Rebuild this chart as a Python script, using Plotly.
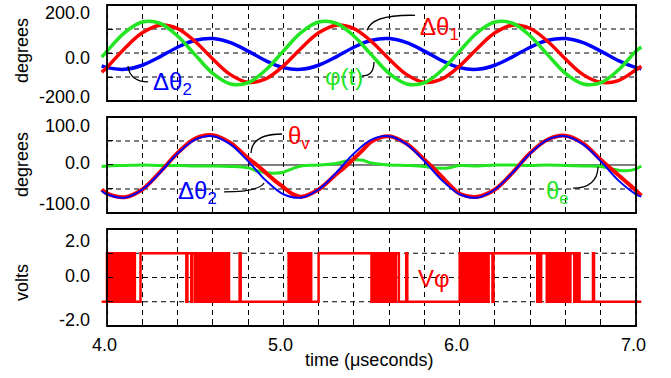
import plotly.graph_objects as go

# ---------------- data ----------------
t_main = [3.97, 4.0, 4.1, 4.2, 4.3, 4.4, 4.5, 4.6, 4.7, 4.8, 4.9,
          5.0, 5.1, 5.2, 5.3, 5.4, 5.5, 5.6, 5.7, 5.8, 5.9,
          6.0, 6.1, 6.2, 6.3, 6.4, 6.5, 6.6, 6.7, 6.8, 6.9, 7.0, 7.03]

d_theta1 = [-80, -60, 19, 84, 116, 102, 48, -25, -90, -122, -108,
            -54, 19, 84, 116, 102, 48, -25, -90, -122, -108,
            -54, 19, 84, 116, 102, 48, -25, -90, -122, -115, -70, -55]

phi_t = [-17, 8, 85, 129, 124, 71, -8, -85, -129, -124, -71,
         8, 85, 129, 124, 71, -8, -85, -129, -124, -71,
         8, 85, 129, 124, 71, -8, -85, -129, -124, -71, 8, 25]

d_theta2 = [-54, -61, -68, -51, -16, 24, 53, 60, 43, 8, -32,
            -61, -68, -51, -16, 24, 53, 60, 43, 8, -32,
            -61, -68, -51, -16, 24, 53, 60, 43, 8, -32, -61, -66]

t_mid = [3.97, 4.0, 4.1, 4.2, 4.3, 4.4, 4.5, 4.6, 4.7, 4.8, 4.85, 4.9, 4.95,
         5.0, 5.05, 5.1, 5.2, 5.3, 5.35, 5.4, 5.45, 5.5, 5.6, 5.7, 5.8, 5.85,
         5.9, 5.95, 6.0, 6.1, 6.2, 6.3, 6.4, 6.5, 6.6, 6.7, 6.8, 6.85, 6.9,
         6.95, 7.0, 7.03]

theta_v = [-51, -59, -67, -51, -15, 25, 55, 62, 46, 14, 0, -16, -32,
           -46, -60, -66, -51, -19, -4, 13, 31, 49, 60, 44, 11, -6,
           -25, -44, -60, -66, -51, -16, 25, 53, 61, 45, 11, -5, -21,
           -37, -53, -64]

theta_e = [-3, -2, -1, 0, -1, -1, -2, -2, -3, -6, -12, -16, -17,
           -15, -8, -2, 0, 3, 8, 11, 10, 4, 0, -1, -3, -6,
           -7, -5, -1, -2, 0, 0, -1, 0, -1, -2, -3, -7, -11,
           -12, -8, -2]

# V_phi: switching instants (each toggles between -1 and +1), starting low
v_start, v_end = 3.97, 7.03
v_low, v_high = -1.0, 1.0
v_switch = [
    4.000, 4.008, 4.018, 4.026, 4.035, 4.046, 4.055, 4.064, 4.074, 4.083,
    4.092, 4.103, 4.112, 4.121, 4.132, 4.140, 4.150, 4.158,
    4.190,
    4.450, 4.456, 4.478, 4.484,
    4.500, 4.509, 4.518, 4.527, 4.536, 4.545, 4.554, 4.563, 4.572, 4.581,
    4.590, 4.599, 4.608, 4.617, 4.626, 4.640, 4.652, 4.664, 4.676, 4.684, 4.692,
    4.752, 4.758,
    5.030, 5.038, 5.047, 5.055, 5.064, 5.072, 5.080,
    5.094, 5.102, 5.110, 5.118, 5.126, 5.134, 5.142, 5.150, 5.158,
    5.200,
    5.500, 5.509, 5.518, 5.527, 5.536, 5.545, 5.554, 5.563, 5.572, 5.581,
    5.590, 5.599,
    5.612, 5.618, 5.632, 5.638, 5.655,
    5.697, 5.703,
    6.000, 6.009, 6.018, 6.027, 6.036, 6.045, 6.054, 6.063, 6.072, 6.081,
    6.090, 6.099, 6.108, 6.117, 6.126,
    6.140, 6.146, 6.158, 6.164, 6.186, 6.192,
    6.440, 6.446, 6.456, 6.462,
    6.494, 6.503, 6.512, 6.521, 6.530, 6.539, 6.548, 6.557, 6.566, 6.575,
    6.584, 6.593, 6.602, 6.611, 6.620, 6.628,
    6.650, 6.656, 6.668, 6.674, 6.680,
    6.756, 6.762,
]

x_grid = [4.0, 4.2, 4.4, 4.6, 4.8, 5.0, 5.2, 5.4, 5.6, 5.8, 6.0, 6.2, 6.4, 6.6, 6.8, 7.0]
x_label_vals = [4.0, 5.0, 6.0, 7.0]
x_label_text = ["4.0", "5.0", "6.0", "7.0"]

top_grid = [-100, 0, 100]
top_label_vals = [-200, 0, 200]
top_label_text = ["-200.0", "0.0", "200.0"]
mid_grid = [-50, 0, 50]
mid_label_vals = [-100, 0, 100]
mid_label_text = ["-100.0", "0.0", "100.0"]
bot_grid = [-1, 0, 1]
bot_label_vals = [-2, 0, 2]
bot_label_text = ["-2.0", "0.0", "2.0"]

# build step trace for V_phi
vx = [v_start]
vy = [v_low]
level = v_low
for s in v_switch:
    level = v_high if level == v_low else v_low
    vx.append(s)
    vy.append(level)
vx.append(v_end)
vy.append(level)

# ---------------- styling ----------------
RED = "#ff0000"
GREEN = "#22e622"
BLUE = "#0000ff"
FONT = "Liberation Sans, Arial, Helvetica, sans-serif"
DASH = "5px,4px"

fig = go.Figure()

# top panel
fig.add_trace(go.Scatter(x=t_main, y=d_theta2, mode="lines", line=dict(color=BLUE, width=3.5, shape="spline"), xaxis="x", yaxis="y"))
fig.add_trace(go.Scatter(x=t_main, y=d_theta1, mode="lines", line=dict(color=RED, width=3.5, shape="spline"), xaxis="x", yaxis="y"))
fig.add_trace(go.Scatter(x=t_main, y=phi_t, mode="lines", line=dict(color=GREEN, width=3.5, shape="spline"), xaxis="x", yaxis="y"))

# middle panel
fig.add_trace(go.Scatter(x=t_mid, y=theta_e, mode="lines", line=dict(color=GREEN, width=3, shape="spline"), xaxis="x2", yaxis="y2"))
fig.add_trace(go.Scatter(x=t_mid, y=theta_v, mode="lines", line=dict(color=RED, width=4, shape="spline"), xaxis="x2", yaxis="y2"))
fig.add_trace(go.Scatter(x=t_main, y=d_theta2, mode="lines", line=dict(color=BLUE, width=2, shape="spline"), xaxis="x2", yaxis="y2"))

# bottom panel
fig.add_trace(go.Scatter(x=vx, y=vy, mode="lines", line=dict(color=RED, width=2.5, shape="hv"), xaxis="x3", yaxis="y3"))

XDOM = [0.14896, 0.95835]
XR = [3.96, 7.04]
YPOS = 107 / 671

def xax(anchor):
    return dict(domain=XDOM, range=XR, anchor=anchor, tickmode="array",
                tickvals=x_grid, showticklabels=False, automargin=False,
                showgrid=True, gridcolor="black", gridwidth=1, griddash=DASH,
                zeroline=False, showline=False, ticks="inside", ticklen=5,
                tickcolor="black", tickwidth=1, mirror="ticks")

def yax(dom, rng, tv):
    return dict(domain=dom, range=rng, anchor="free", position=YPOS, tickmode="array",
                tickvals=tv, showticklabels=False, automargin=False,
                showgrid=False, zeroline=False, showline=False,
                ticks="inside", ticklen=5, tickcolor="black", tickwidth=1)

fig.update_layout(
    width=671, height=378, margin=dict(l=0, r=0, t=0, b=0, autoexpand=False),
    paper_bgcolor="white", plot_bgcolor="white", showlegend=False,
    xaxis=xax("y"),
    xaxis2=xax("y2"),
    xaxis3=xax("y3"),
    yaxis=yax([0.7328, 0.98677], [-200, 200], top_grid),
    yaxis2=yax([0.43651, 0.69048], [-100, 100], mid_grid),
    yaxis3=yax([0.13757, 0.39418], [-2, 2], bot_grid),
)

shapes = []
# horizontal grid lines and frames
for xr, yr, vals, solid0 in [("x", "y", top_grid, False),
                              ("x2", "y2", mid_grid, True),
                              ("x3", "y3", bot_grid, False)]:
    for v in vals:
        dash = "solid" if (solid0 and v == 0) else DASH
        shapes.append(dict(type="line", xref=xr, yref=yr, x0=4.0, x1=7.0, y0=v, y1=v,
                           line=dict(color="black", width=1, dash=dash), layer="below"))
    shapes.append(dict(type="rect", xref=xr, yref=yr + " domain", x0=4.0, x1=7.0, y0=0, y1=1,
                       line=dict(color="black", width=1.8), layer="above"))

# leader curves
LEAD = dict(color="black", width=1.3)
shapes += [
    dict(type="path", xref="x", yref="y", path="M 5.747,157 Q 5.503,161 5.475,95", line=LEAD),
    dict(type="path", xref="x", yref="y", path="M 4.119,-54 Q 4.130,-120 4.233,-120", line=LEAD),
    dict(type="path", xref="x", yref="y", path="M 5.446,-95 Q 5.514,-95 5.514,-37", line=LEAD),
    dict(type="path", xref="x2", yref="y2", path="M 4.993,64.6 Q 4.822,64.6 4.817,25", line=LEAD),
    dict(type="path", xref="x2", yref="y2", path="M 4.664,-56 Q 4.857,-56 4.891,-37.5", line=LEAD),
    dict(type="path", xref="x2", yref="y2", path="M 6.643,-48 Q 6.779,-48 6.785,-4", line=LEAD),
]
fig.update_layout(shapes=shapes)

TICKF = dict(family=FONT, size=18, color="black")
LBL = 24
ann = [
    dict(x=5.888, y=103, xref="x", yref="y", text="Δθ<sub>1</sub>", font=dict(color=RED, size=LBL, family=FONT)),
    dict(x=4.369, y=-128, xref="x", yref="y", text="Δθ<sub>2</sub>", font=dict(color=BLUE, size=LBL, family=FONT)),
    dict(x=5.344, y=-99, xref="x", yref="y", text="φ(t)", font=dict(color=GREEN, size=LBL, family=FONT)),
    dict(x=5.089, y=58, xref="x2", yref="y2", text="θ<sub>v</sub>", font=dict(color=RED, size=LBL, family=FONT)),
    dict(x=4.516, y=-58, xref="x2", yref="y2", text="Δθ<sub>2</sub>", font=dict(color=BLUE, size=LBL, family=FONT)),
    dict(x=6.552, y=-58, xref="x2", yref="y2", text="θ<sub>e</sub>", font=dict(color=GREEN, size=LBL, family=FONT)),
    dict(x=5.854, y=-0.06, xref="x3", yref="y3", text="Vφ", font=dict(color=RED, size=LBL, family=FONT)),
    dict(x=22 / 671, y=1 - 51 / 378, xref="paper", yref="paper", text="degrees", textangle=-90, font=TICKF),
    dict(x=22 / 671, y=1 - 165 / 378, xref="paper", yref="paper", text="degrees", textangle=-90, font=TICKF),
    dict(x=22 / 671, y=1 - 283 / 378, xref="paper", yref="paper", text="volts", textangle=-90, font=TICKF),
    dict(x=368.5 / 671, y=1 - 360 / 378, xref="paper", yref="paper", text="time (μseconds)", font=TICKF),
]

# x tick labels (bottom panel only)
for v, s in zip(x_label_vals, x_label_text):
    ann.append(dict(x=v, y=0, xref="x3", yref="y3 domain", text=s, font=TICKF,
                    xanchor="center", yanchor="middle", yshift=-19, xshift=-3))

# y tick labels, nudged inward as in the reference
for yr, vals, texts, shifts in [("y", top_label_vals, top_label_text, [4, -5, -8]),
                                ("y2", mid_label_vals, mid_label_text, [9, 2, -9]),
                                ("y3", bot_label_vals, bot_label_text, [6, 1, -12])]:
    for v, s, sh in zip(vals, texts, shifts):
        ann.append(dict(x=92 / 671, y=v, xref="paper", yref=yr, text=s, font=TICKF,
                        xanchor="right", yanchor="middle", yshift=sh))

for a in ann:
    a.setdefault("showarrow", False)
    a.setdefault("xanchor", "center")
    a.setdefault("yanchor", "middle")
fig.update_layout(annotations=ann)

fig.write_html("out.html", config={"displayModeBar": False},
               post_script="document.body.style.margin='0';document.body.style.padding='0';")
